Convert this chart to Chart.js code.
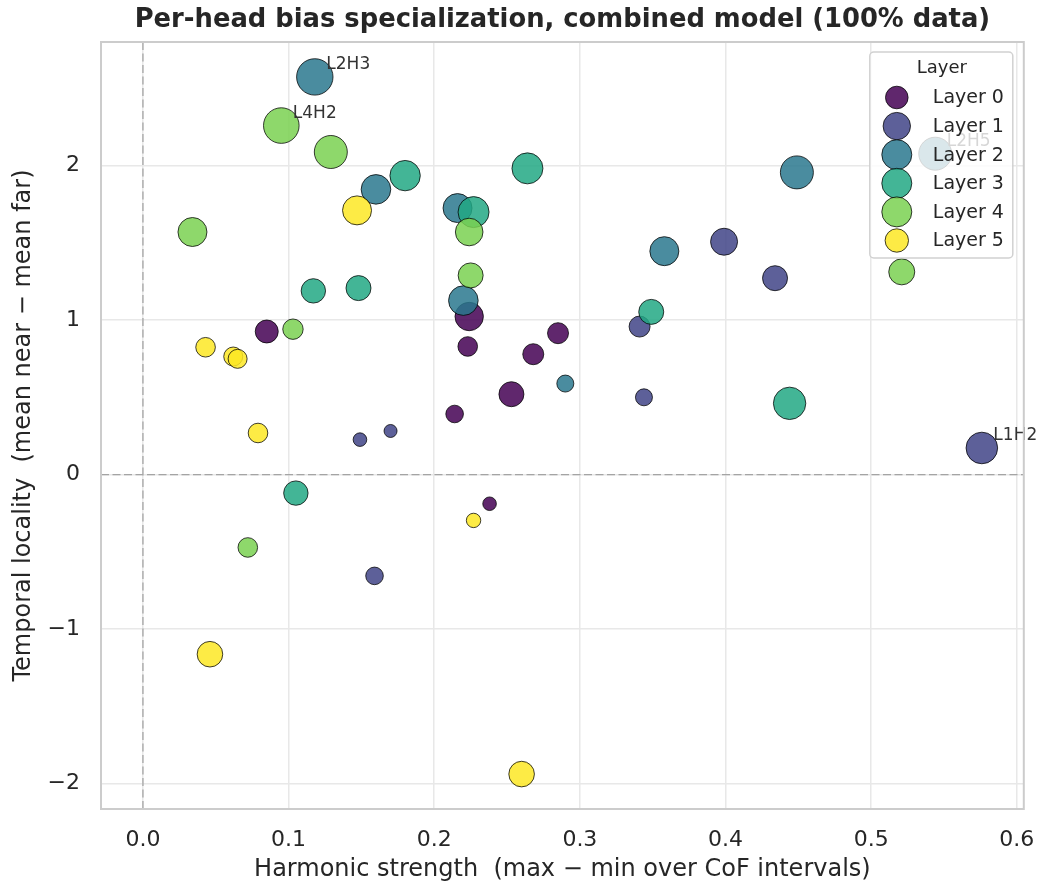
<!DOCTYPE html>
<html>
<head>
<meta charset="utf-8">
<script src="https://cdn.jsdelivr.net/npm/chart.js@4.4.1/dist/chart.umd.min.js"></script>
<style>
  html, body { margin: 0; padding: 0; background: #fff; }
  #wrap { width: 1043px; height: 889px; }
</style>
</head>
<body>
<div id="wrap"><canvas id="headChart"></canvas></div>
<script>
// values, one row per layer (8 heads each)
const layerNames = ['Layer 0', 'Layer 1', 'Layer 2', 'Layer 3', 'Layer 4', 'Layer 5'];

const harmonic = [
    [0.224, 0.285, 0.085, 0.223, 0.268, 0.253, 0.214, 0.238],
    [0.399, 0.434, 0.341, 0.344, 0.576, 0.149, 0.170, 0.159],
    [0.118, 0.160, 0.216, 0.220, 0.449, 0.544, 0.358, 0.290],
    [0.180, 0.264, 0.227, 0.117, 0.148, 0.349, 0.444, 0.105],
    [0.095, 0.129, 0.224, 0.034, 0.225, 0.521, 0.103, 0.072],
    [0.147, 0.043, 0.062, 0.065, 0.079, 0.227, 0.046, 0.260],
];

const locality = [
    [1.023, 0.915, 0.926, 0.829, 0.779, 0.520, 0.392, -0.189],
    [1.507, 1.271, 0.958, 0.500, 0.172, 0.226, 0.282, -0.656],
    [2.574, 1.846, 1.725, 1.126, 1.956, 2.077, 1.446, 0.589],
    [1.935, 1.982, 1.699, 1.189, 1.207, 1.053, 0.461, -0.120],
    [2.259, 2.088, 1.570, 1.570, 1.289, 1.312, 0.941, -0.472],
    [1.710, 0.824, 0.764, 0.749, 0.269, -0.297, -1.163, -1.939],
];

// bubble radius per head
const bubbleSize = [
    [14.2, 10.5, 11.5, 9.8, 10.5, 12.5, 8.8, 6.8],
    [13.5, 12.5, 10.5, 8.5, 15.8, 6.8, 6.5, 8.8],
    [18.2, 14.8, 14.5, 14.8, 16.5, 16.5, 14.5, 8.5],
    [15.2, 15.5, 15.5, 12.2, 12.5, 12.5, 16.2, 12.2],
    [17.8, 16.5, 13.8, 14.5, 12.5, 13.0, 10.2, 9.8],
    [14.5, 9.8, 9.5, 9.5, 9.8, 7.2, 12.8, 12.8],
];

// labelled heads: [layer, index in row, text]
const namedHeads = [
    [2, 0, 'L2H3'],
    [4, 0, 'L4H2'],
    [2, 5, 'L2H5'],
    [1, 4, 'L1H2'],
];

const xTicks = [0.0, 0.1, 0.2, 0.3, 0.4, 0.5, 0.6];
const yTicks = [-2, -1, 0, 1, 2];

const viridis = [
    'rgba(68, 1, 84, 0.85)',
    'rgba(65, 68, 135, 0.85)',
    'rgba(42, 120, 142, 0.85)',
    'rgba(34, 168, 132, 0.85)',
    'rgba(122, 209, 81, 0.85)',
    'rgba(253, 231, 37, 0.85)',
];
const legendR = [11.3, 13.7, 15, 15, 15, 11.7];

const FONT = "'DejaVu Sans', sans-serif";
const INK = '#262626';

let datasets = layerNames.map((name, l) => ({
    label: name,
    data: harmonic[l].map((v, i) => ({x: v, y: locality[l][i], r: bubbleSize[l][i]})),
    backgroundColor: viridis[l],
    borderColor: 'rgba(0, 0, 0, 0.75)',
    borderWidth: 1,
    order: layerNames.length - l,
}));

const zeroLines = {
    id: 'zeroLines',
    beforeDatasetsDraw(chart) {
        const {ctx, chartArea: a, scales: {x, y}} = chart;
        const x0 = x.getPixelForValue(0);
        const y0 = y.getPixelForValue(0);
        ctx.save();
        ctx.strokeStyle = 'rgba(128, 128, 128, 0.65)';
        ctx.lineWidth = 1.3;
        ctx.setLineDash([8, 3.5]);
        ctx.beginPath();
        ctx.moveTo(x0, a.top);
        ctx.lineTo(x0, a.bottom);
        ctx.moveTo(a.left, y0);
        ctx.lineTo(a.right, y0);
        ctx.stroke();
        ctx.restore();
    }
};

const extras = {
    id: 'extras',
    afterDatasetsDraw(chart) {
        const {ctx, chartArea: a} = chart;
        ctx.save();
        // head labels
        ctx.font = '17px ' + FONT;
        ctx.fillStyle = '#333';
        ctx.textAlign = 'left';
        ctx.textBaseline = 'middle';
        namedHeads.forEach(([l, i, txt]) => {
            let el = chart.getDatasetMeta(l).data[i];
            ctx.fillText(txt, el.x + 11.5, el.y - 12);
        });
        // frame
        ctx.strokeStyle = '#cccccc';
        ctx.lineWidth = 2;
        ctx.strokeRect(a.left, a.top, a.right - a.left, a.bottom - a.top);
        ctx.restore();
    },
    afterDraw(chart) {
        const {ctx, chartArea: a} = chart;
        ctx.save();
        // title
        ctx.font = 'bold 25.8px ' + FONT;
        ctx.fillStyle = INK;
        ctx.textAlign = 'center';
        ctx.textBaseline = 'middle';
        ctx.fillText('Per-head bias specialization, combined model (100% data)', (a.left + a.right) / 2, 20);

        // legend box
        const bx = a.right - 154, by = a.top + 10, bw = 143, bh = 206;
        ctx.beginPath();
        ctx.roundRect(bx, by, bw, bh, 4);
        ctx.fillStyle = 'rgba(255, 255, 255, 0.8)';
        ctx.fill();
        ctx.strokeStyle = 'rgba(204, 204, 204, 0.9)';
        ctx.lineWidth = 1.5;
        ctx.stroke();

        ctx.fillStyle = INK;
        ctx.font = '18px ' + FONT;
        ctx.textAlign = 'center';
        ctx.fillText('Layer', bx + 72, by + 16);

        ctx.font = '19px ' + FONT;
        ctx.textAlign = 'left';
        layerNames.forEach((name, l) => {
            let cy = by + 45.5 + l * 28.6;
            ctx.beginPath();
            ctx.arc(bx + 27, cy, legendR[l], 0, Math.PI * 2);
            ctx.fillStyle = viridis[l];
            ctx.fill();
            ctx.strokeStyle = 'rgba(0, 0, 0, 0.75)';
            ctx.lineWidth = 1;
            ctx.stroke();
            ctx.fillStyle = INK;
            ctx.fillText(name, bx + 63, cy + 1);
        });
        ctx.restore();
    }
};

new Chart(document.getElementById('headChart'), {
    type: 'bubble',
    data: {datasets: datasets},
    options: {
        responsive: true,
        maintainAspectRatio: false,
        animation: false,
        events: [],
        layout: {padding: {top: 42, right: 11, left: 0, bottom: 0}},
        plugins: {
            legend: {display: false},
            tooltip: {enabled: false},
            title: {display: false},
        },
        scales: {
            x: {
                type: 'linear',
                min: -0.0288,
                max: 0.6048,
                afterFit: s => {
                    s.height = 80;
                    s.paddingLeft = 0;
                    s.paddingRight = 0;
                },
                afterBuildTicks: s => { s.ticks = xTicks.map(v => ({value: v})); },
                grid: {color: '#e8e8e8', lineWidth: 1.5, drawTicks: false},
                border: {display: false},
                ticks: {
                    padding: 18,
                    color: INK,
                    font: {family: FONT, size: 22},
                    callback: v => v.toFixed(1),
                },
                title: {
                    display: true,
                    text: 'Harmonic strength  (max \u2212 min over CoF intervals)',
                    color: INK,
                    font: {family: FONT, size: 24},
                    padding: {top: 0, bottom: 5},
                },
            },
            y: {
                type: 'linear',
                min: -2.165,
                max: 2.80,
                afterFit: s => {
                    s.width = 101;
                    s.paddingTop = 0;
                    s.paddingBottom = 0;
                },
                afterBuildTicks: s => { s.ticks = yTicks.map(v => ({value: v})); },
                grid: {color: '#e8e8e8', lineWidth: 1.5, drawTicks: false},
                border: {display: false},
                ticks: {
                    padding: 21,
                    color: INK,
                    font: {family: FONT, size: 22},
                    callback: v => (v < 0 ? '\u2212' + Math.abs(v) : '' + v),
                },
                title: {
                    display: true,
                    text: 'Temporal locality  (mean near \u2212 mean far)',
                    color: INK,
                    font: {family: FONT, size: 24},
                    padding: {top: 9, bottom: 0},
                },
            },
        },
    },
    plugins: [zeroLines, extras],
});
</script>
</body>
</html>
